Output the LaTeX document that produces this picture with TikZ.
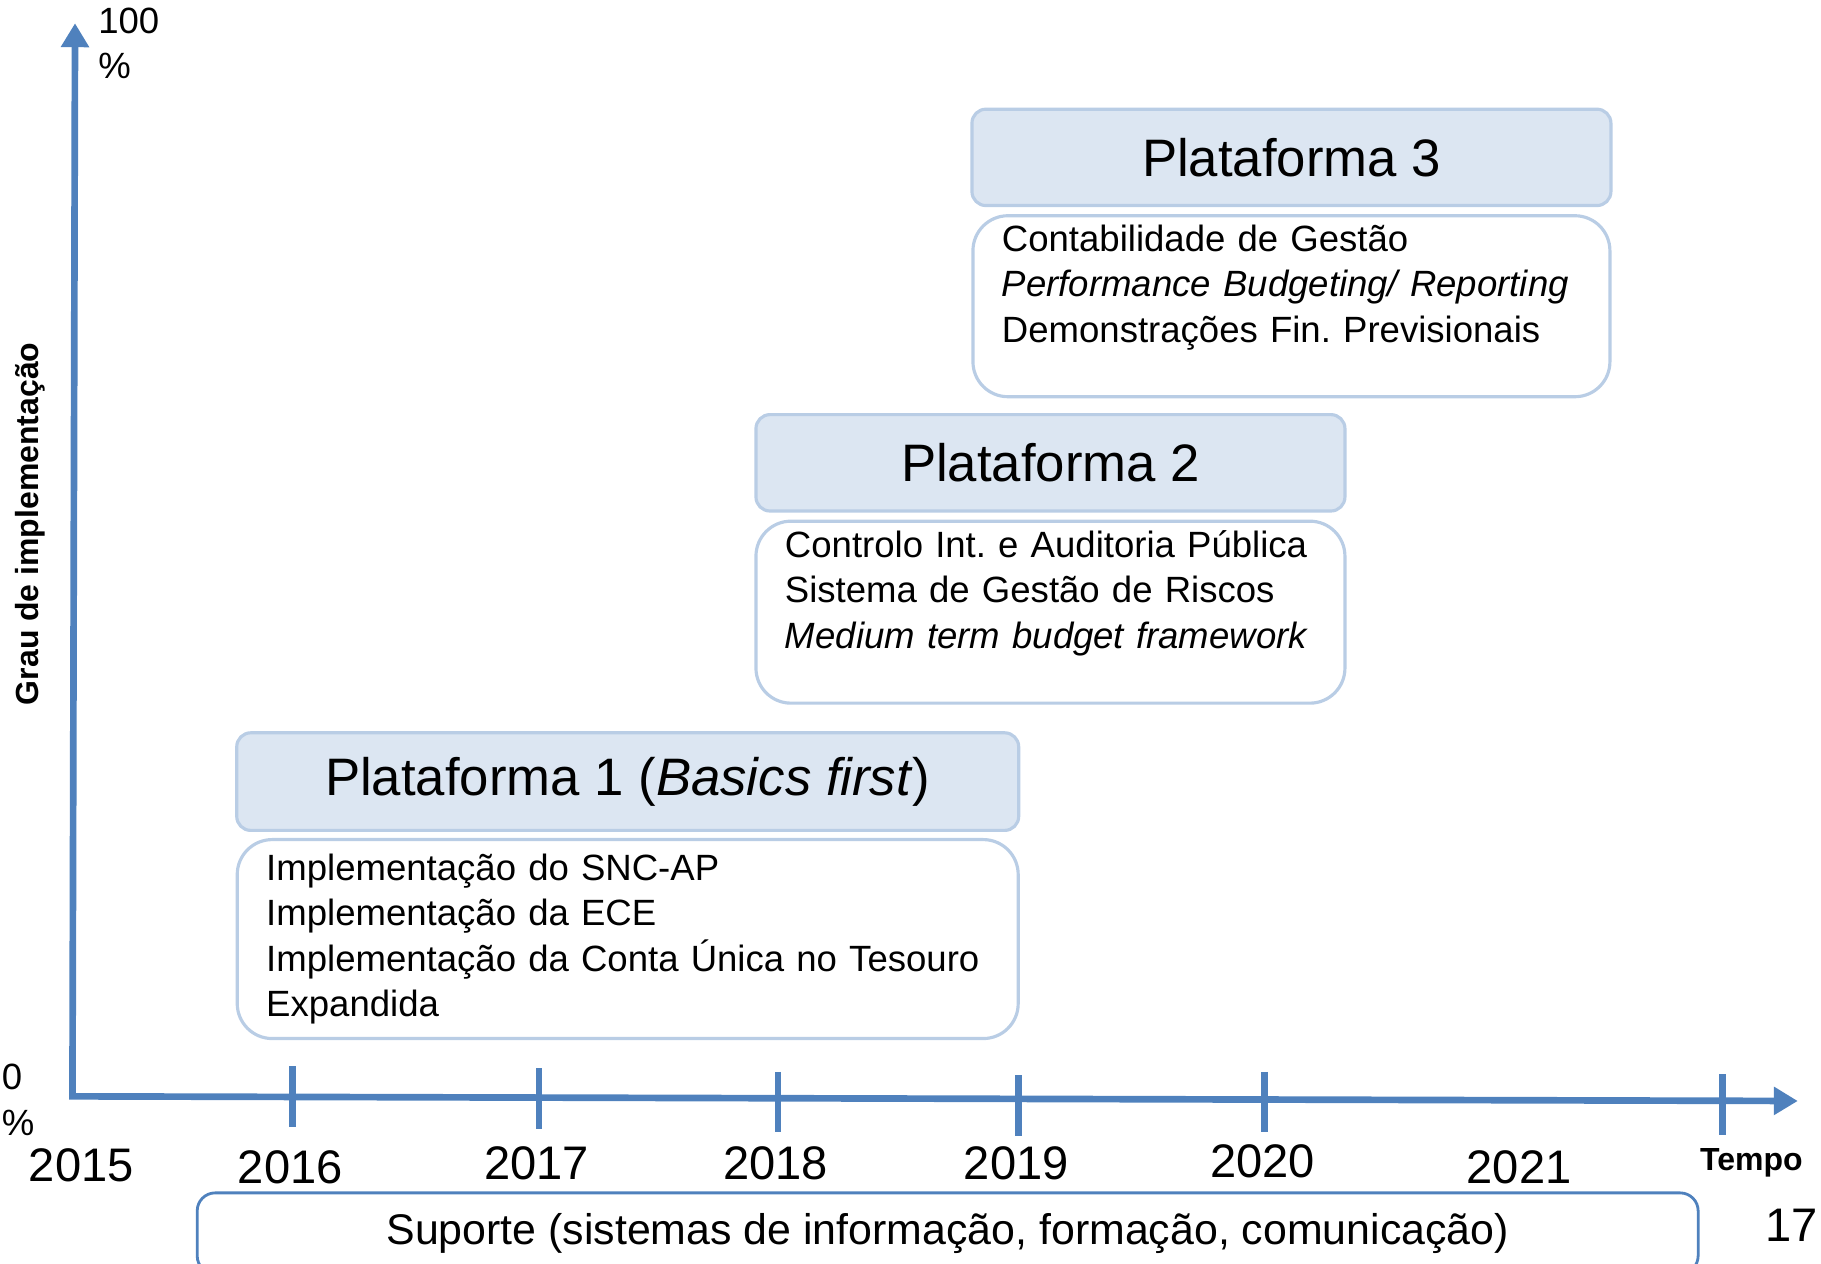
\documentclass[tikz,border=0pt]{standalone}
\usepackage{fontspec}
\setmainfont{Liberation Sans}
\usetikzlibrary{arrows.meta, positioning}
\definecolor{axisblue}{RGB}{79,129,189}
\definecolor{headfill}{RGB}{220,230,242}
\definecolor{boxedge}{RGB}{185,205,229}
\frenchspacing

\begin{document}
\begin{tikzpicture}[x=1.1614cm, y=-1.1614cm,
    axis/.style={draw=axisblue, line width=1.9pt},
    phead/.style={draw=boxedge, fill=headfill, line width=0.9pt, rounded corners=1.4mm,
        inner sep=0pt, font=\fontsize{15}{18}\selectfont},
    pbody/.style={draw=boxedge, fill=white, line width=0.9pt, rounded corners=3.5mm,
        align=left, inner xsep=2.9mm, inner ysep=0pt, font=\fontsize{10.4}{12.9}\selectfont},
    year/.style={font=\fontsize{13.4}{16}\selectfont},
    smallbold/.style={font=\fontsize{9.1}{11}\selectfont\bfseries}]
                    \useasboundingbox (0,0) rectangle (15.68,10.88);

                    % axes
                    \coordinate (orig) at (0.624,9.44);
                    \coordinate (ytop) at (0.646,0.20);
                    \coordinate (xend) at (15.48,9.48);
                    \draw[axis, {Triangle[width=2.7mm,length=2.4mm]}-{Triangle[width=2.7mm,length=2.4mm]}]
                        (ytop) -- (orig) -- (xend);
                    \foreach \x/\y in {2.52/9.45, 4.64/9.47, 6.70/9.50, 8.77/9.53, 10.89/9.50, 14.83/9.52}
                        \draw[axis] (\x,\y-0.27) -- (\x,\y+0.25);

                    \node[font=\fontsize{10.4}{12.9}\selectfont, align=left, anchor=west, inner sep=0pt] (top) at (0.84,0.375) {100\\\%};
                    \node[font=\fontsize{10.4}{12.9}\selectfont, align=left, anchor=west, inner sep=0pt] (bot) at (0.01,9.47) {0\\\%};
                    \node[smallbold, rotate=90] (ylab) at (0.26,4.51) {Grau de implementação};

                    \node[year] (y15) at (0.70,10.03) {2015};
                    \node[year] (y16) at (2.50,10.05) {2016};
                    \node[year] (y17) at (4.62,10.02) {2017};
                    \node[year] (y18) at (6.68,10.02) {2018};
                    \node[year] (y19) at (8.75,10.02) {2019};
                    \node[year] (y20) at (10.87,10.00) {2020};
                    \node[year] (y21) at (13.08,10.05) {2021};
                    \node[smallbold] (tempo) at (15.08,10.01) {Tempo};
                    \node[year, anchor=east, inner sep=0pt] (pg) at (15.66,10.55) {17};

                    % platforms
                    \node[phead, minimum width=63.9mm, minimum height=9.64mm] (hd3) at (11.12,1.355) {Plataforma 3};
                    \node[pbody, text width=57.9mm, minimum height=18.1mm, below=0.7mm of hd3] (bd3)
                        {\mbox{Contabilidade de Gestão}\\\mbox{\textit{Performance Budgeting/ Reporting}}\\\mbox{Demonstrações Fin. Previsionais}\\\mbox{}};

                    \node[phead, minimum width=58.9mm, minimum height=9.64mm] (hd2) at (9.045,3.985) {Plataforma 2};
                    \node[pbody, text width=53.1mm, minimum height=18.2mm, below=0.7mm of hd2] (bd2)
                        {\mbox{Controlo Int. e Auditoria Pública}\\\mbox{Sistema de Gestão de Riscos}\\\mbox{\textit{Medium term budget framework}}\\\mbox{}};

                    \node[phead, minimum width=78.2mm, minimum height=9.76mm] (hd1) at (5.405,6.73) {Plataforma 1 (\textit{Basics first})};
                    \node[pbody, text width=72.3mm, minimum height=19.9mm, below=0.6mm of hd1] (bd1)
                        {\mbox{Implementação do SNC-AP}\\\mbox{Implementação da ECE}\\\mbox{Implementação da Conta Única no Tesouro}\\\mbox{Expandida}};

                    % support
                    \node[draw=axisblue, line width=0.8pt, rounded corners=1.8mm, minimum width=150.1mm,
                        minimum height=8.1mm, font=\fontsize{12.2}{15}\selectfont] (sup) at (8.16,10.62)
                        {Suporte (sistemas de informação, formação, comunicação)};
            \end{tikzpicture}
\end{document}
